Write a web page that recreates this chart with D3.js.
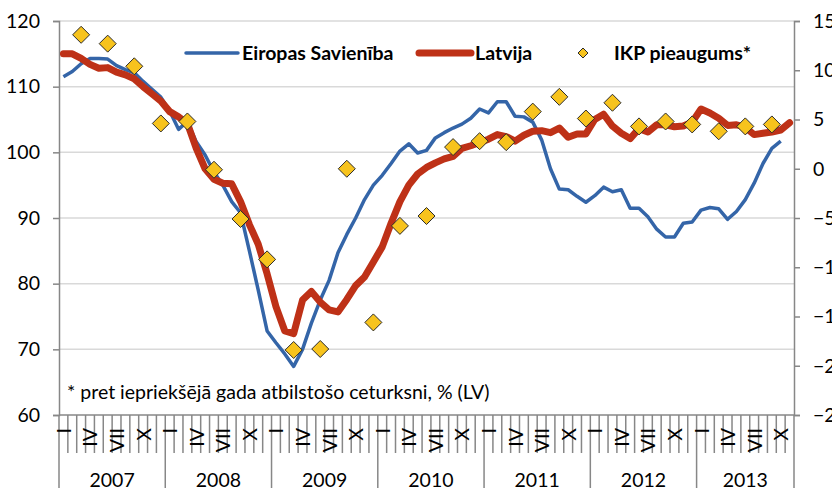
<!DOCTYPE html>
<html>
<head>
<meta charset="utf-8">
<script src="https://cdn.jsdelivr.net/npm/d3@7"></script>
<style>
body { margin: 0; background: #fff; }
svg { display: block; font-family: Lato, "Open Sans", sans-serif; }
</style>
</head>
<body>
<svg id="chart" width="832" height="488"></svg>
<script>
var years = ["2007", "2008", "2009", "2010", "2011", "2012", "2013"];
var months = ["I", "II", "III", "IV", "V", "VI", "VII", "VIII", "IX", "X", "XI", "XII"];
var shownMonths = ["I", "IV", "VII", "X"];
var leftTicks = [60, 70, 80, 90, 100, 110, 120];
var rightTicks = [-25, -20, -15, -10, -5, 0, 5, 10, 15];

// Eiropas Savieniba, monthly index (LV axis)
var euValues = [
    111.5, 112.3, 113.5, 114.3, 114.3, 114.2, 113.2, 112.6, 112.1, 110.8, 109.6, 108.4,
    106.3, 103.5, 104.7, 101.6, 99.6, 97.0, 95.0, 92.5, 90.8, 85.0, 79.0, 72.8,
    71.0, 69.3, 67.4, 70.0, 74.0, 77.5, 80.5, 84.7, 87.5, 90.0, 92.8, 95.0,
    96.5, 98.3, 100.2, 101.3, 99.9, 100.3, 102.2, 103.0, 103.7, 104.3, 105.2, 106.6,
    106.0, 107.7, 107.7, 105.5, 105.4, 104.6, 101.9, 97.5, 94.4, 94.3, 93.3, 92.4,
    93.4, 94.7, 94.0, 94.3, 91.5, 91.5, 90.2, 88.3, 87.1, 87.1, 89.2, 89.4,
    91.2, 91.6, 91.4, 89.8, 91.0, 92.8, 95.3, 98.3, 100.6, 101.7
];
// Latvija, monthly index (LV axis)
var lvValues = [
    115.0, 115.0, 114.3, 113.4, 112.8, 112.9, 112.2, 111.8, 111.2, 110.0, 108.9, 107.8,
    106.2, 105.4, 104.4, 100.6, 97.5, 95.9, 95.3, 95.2, 92.5, 89.0, 86.0, 81.5,
    76.5, 72.8, 72.4, 77.5, 78.8, 77.2, 76.0, 75.7, 77.6, 79.7, 81.0, 83.3,
    85.6, 89.2, 92.5, 95.0, 96.7, 97.7, 98.4, 99.0, 99.4, 100.6, 101.0, 101.5,
    102.0, 102.7, 102.4, 101.7, 102.6, 103.2, 103.3, 103.0, 103.7, 102.3, 102.8, 102.8,
    105.0, 105.8, 104.0, 102.9, 102.1, 103.6, 103.1, 104.2, 104.2, 103.9, 104.0, 104.6,
    106.6, 106.0, 105.2, 104.1, 104.2, 103.8, 102.7, 102.9, 103.1, 103.4, 104.5
];
// IKP pieaugums*, quarterly, % (right axis)
var gdpValues = [
    13.6, 12.7, 10.4, 4.6,
    4.8, -0.1, -5.1, -9.2,
    -18.4, -18.3, 0.0, -15.6,
    -5.8, -4.8, 2.2, 2.8,
    2.7, 5.8, 7.3, 5.1,
    6.7, 4.3, 4.8, 4.5,
    3.8, 4.3, 4.5
];

var categories = [];
years.forEach(function (y) {
    months.forEach(function (m) {
        categories.push({ year: y, month: m });
    });
});
categories = categories.slice(0, lvValues.length);

var svg = d3.select("#chart");
var plotLeft = 59, plotRight = 794, plotTop = 21, plotBottom = 415;

var x = d3.scaleBand().domain(d3.range(categories.length)).range([plotLeft, plotRight]).padding(0);
var yL = d3.scaleLinear().domain([60, 120]).range([plotBottom, plotTop]);
var yR = d3.scaleLinear().domain([-25, 15]).range([plotBottom, plotTop]);
var bw = x.bandwidth();
var cx = function (i) { return x(i) + bw / 2; };

var axisColor = "#878787";
var fontSize = 19.5;

// gridlines
svg.append("g").selectAll("line").data(leftTicks.slice(1)).join("line")
    .attr("x1", plotLeft).attr("x2", plotRight)
    .attr("y1", function (d) { return yL(d); }).attr("y2", function (d) { return yL(d); })
    .attr("stroke", "#d9d9d9").attr("stroke-width", 1.5);

// left axis
var gl = svg.append("g").attr("transform", "translate(" + plotLeft + ",0)")
    .call(d3.axisLeft(yL).tickValues(leftTicks).tickSize(6).tickPadding(13));
gl.select(".domain").attr("stroke", axisColor).attr("stroke-width", 1.5);
gl.selectAll(".tick line").attr("stroke", axisColor).attr("stroke-width", 1.5);
gl.selectAll(".tick text").attr("font-size", fontSize).attr("fill", "#000").attr("font-family", "Lato, sans-serif");

// right axis
var gr = svg.append("g").attr("transform", "translate(" + plotRight + ",0)")
    .call(d3.axisRight(yR).tickValues(rightTicks).tickSize(6).tickPadding(13));
gr.select(".domain").attr("stroke", axisColor).attr("stroke-width", 1.5);
gr.selectAll(".tick line").attr("stroke", axisColor).attr("stroke-width", 1.5);
gr.selectAll(".tick text").attr("font-size", fontSize).attr("fill", "#000").attr("font-family", "Lato, sans-serif");

// category axis
svg.append("line").attr("x1", plotLeft).attr("x2", plotRight).attr("y1", plotBottom).attr("y2", plotBottom)
    .attr("stroke", axisColor).attr("stroke-width", 1.5);
var bounds = d3.range(categories.length + 1);
svg.append("g").selectAll("line").data(bounds).join("line")
    .attr("x1", function (i) { return i < categories.length ? x(i) : plotRight; })
    .attr("x2", function (i) { return i < categories.length ? x(i) : plotRight; })
    .attr("y1", plotBottom)
    .attr("y2", function (i) {
        return (i % 12 === 0 || i === categories.length) ? 488 : 453;
    })
    .attr("stroke", axisColor).attr("stroke-width", 1.5);

svg.append("g").selectAll("text")
    .data(categories.map(function (c, i) { return { c: c, i: i }; })
        .filter(function (d) { return shownMonths.indexOf(d.c.month) >= 0; }))
    .join("text")
    .attr("transform", function (d) { return "translate(" + cx(d.i) + ",428) rotate(-90)"; })
    .attr("text-anchor", "end").attr("dominant-baseline", "central")
    .attr("font-size", fontSize).attr("fill", "#000")
    .text(function (d) { return d.c.month; });

svg.append("g").selectAll("text").data(years).join("text")
    .attr("x", function (y, k) {
        var first = k * 12, last = Math.min(first + 11, categories.length - 1);
        return (x(first) + x(last) + bw) / 2;
    })
    .attr("y", 487)
    .attr("text-anchor", "middle").attr("font-size", fontSize).attr("fill", "#000")
    .text(function (y) { return y; });

// series
var line = d3.line().x(function (d, i) { return cx(i); }).y(function (d) { return yL(d); });
svg.append("path").datum(euValues).attr("d", line)
    .attr("fill", "none").attr("stroke", "#3465a8").attr("stroke-width", 3.5).attr("stroke-linejoin", "round");
svg.append("path").datum(lvValues).attr("d", line)
    .attr("fill", "none").attr("stroke", "#be3117").attr("stroke-width", 7).attr("stroke-linejoin", "round").attr("stroke-linecap", "round");

var diamond = function (r) { return "M0," + (-r) + "L" + r + ",0L0," + r + "L" + (-r) + ",0Z"; };
svg.append("g").selectAll("path").data(gdpValues).join("path")
    .attr("transform", function (d, q) { return "translate(" + cx(q * 3 + 2) + "," + yR(d) + ")"; })
    .attr("d", diamond(8.5))
    .attr("fill", "#f7c31d").attr("stroke", "#2b2b2b").attr("stroke-width", 1);

// legend
var lg = svg.append("g").attr("font-size", fontSize).attr("font-weight", "bold").attr("fill", "#000");
lg.append("line").attr("x1", 186).attr("x2", 238).attr("y1", 53).attr("y2", 53)
    .attr("stroke", "#3465a8").attr("stroke-width", 3.5).attr("stroke-linecap", "round");
lg.append("text").attr("x", 242).attr("y", 53).attr("dy", "0.35em").text("Eiropas Savienība");
lg.append("line").attr("x1", 419).attr("x2", 471).attr("y1", 53).attr("y2", 53)
    .attr("stroke", "#be3117").attr("stroke-width", 7).attr("stroke-linecap", "round");
lg.append("text").attr("x", 475).attr("y", 53).attr("dy", "0.35em").text("Latvija");
lg.append("path").attr("transform", "translate(583,53)").attr("d", diamond(5))
    .attr("fill", "#f7c31d").attr("stroke", "#2b2b2b").attr("stroke-width", 1);
lg.append("text").attr("x", 614).attr("y", 53).attr("dy", "0.35em").text("IKP pieaugums*");

svg.append("text").attr("x", 67).attr("y", 392).attr("dy", "0.35em")
    .attr("font-size", fontSize).attr("fill", "#000")
    .text("* pret iepriekšējā gada atbilstošo ceturksni, % (LV)");
</script>
</body>
</html>
